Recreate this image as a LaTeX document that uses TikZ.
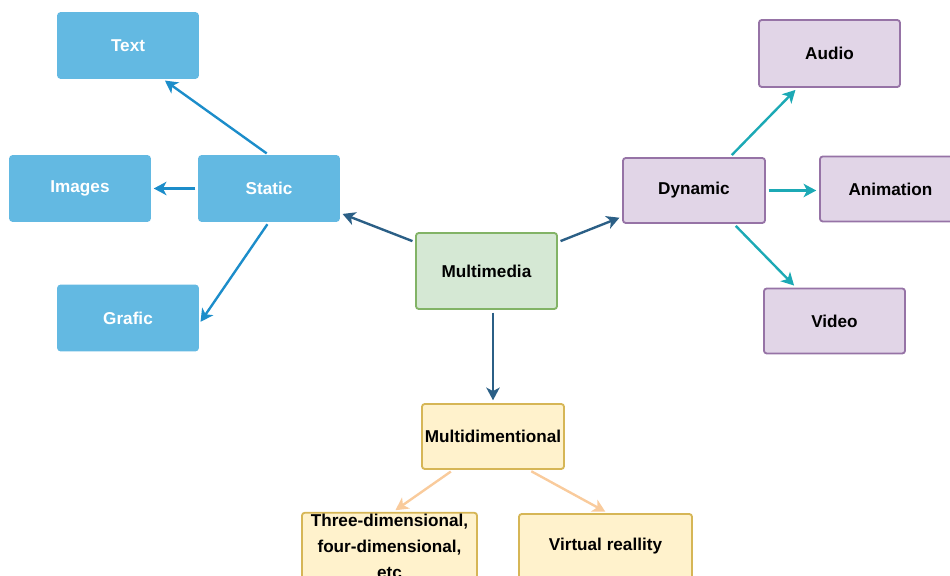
\documentclass[tikz,border=0pt]{standalone}
\usepackage{fontspec}
\setmainfont{Liberation Sans}
\usetikzlibrary{arrows.meta}

\definecolor{staticfill}{HTML}{63B9E2}
\definecolor{staticline}{HTML}{1C8DCA}
\definecolor{dynfill}{HTML}{E1D5E7}
\definecolor{dynline}{HTML}{9673A6}
\definecolor{mmfill}{HTML}{D5E8D4}
\definecolor{mmline}{HTML}{82B366}
\definecolor{mdfill}{HTML}{FFF2CC}
\definecolor{mdline}{HTML}{D6B656}
\definecolor{darkline}{HTML}{2B5F86}
\definecolor{tealline}{HTML}{1CA9B5}
\definecolor{peachline}{HTML}{F9CB9C}

\begin{document}
\begin{tikzpicture}[x=0.025cm,y=-0.025cm,>={Stealth[length=9pt,width=9.5pt,inset=2.5pt]},
    box/.style={rectangle, rounded corners=2pt, minimum width=3.5cm, minimum height=1.625cm, inner sep=1pt, align=center, line width=1.3pt, font=\fontsize{12.2}{18.5}\selectfont\bfseries},
    bluebox/.style={box, fill=staticfill, draw=staticfill, text=white},
    purplebox/.style={box, fill=dynfill, draw=dynline},
    greenbox/.style={box, fill=mmfill, draw=mmline},
    yellowbox/.style={box, fill=mdfill, draw=mdline},
    link/.style={->, line width=1.7pt, shorten <=2pt, shorten >=2pt}]
      \clip (0,0) rectangle (950,576);

      % centre
      \node (mm) [greenbox, minimum height=1.9cm, minimum width=3.525cm] at (486.5,271) {Multimedia};

      % static side
      \node (st) [bluebox] at (269,188.5) {Static};
      \node (tx) [bluebox] at (128,45.5) {Text};
      \node (img) [bluebox] at (80,188.5) {Images};
      \node (gr) [bluebox] at (128,318) {Grafic};

      % dynamic side
      \node (dyn) [purplebox, minimum width=3.55cm] at (694,190.5) {Dynamic};
      \node (au) [purplebox, minimum width=3.525cm, minimum height=1.675cm] at (829.5,53.5) {Audio};
      \node (an) [purplebox, minimum width=3.525cm] at (890.5,189) {Animation};
      \node (vi) [purplebox, minimum width=3.525cm] at (834.5,321) {Video};

      % dimensions
      \node (md) [yellowbox, minimum width=3.55cm] at (493,436.5) {Multidimentional};
      \node (td) [yellowbox, minimum width=4.375cm] at (389.5,546.5) {Three-dimensional,\\ four-dimensional,\\ etc};
      \node (vr) [yellowbox, minimum width=4.325cm] at (605.5,546.5) {Virtual reallity};

      \draw[link, darkline] (mm.158) -- (st.-19);
      \draw[link, darkline] (mm.22) -- (dyn.200);
      \draw[link, darkline] (md.north |- mm.south) -- (md.north);

      \draw[link, staticline] (st.north) -- (tx.-44);
      \draw[link, staticline] (st.west) -- (img.east);
      \draw[link, staticline] (st.south) -- (gr.-5);

      \draw[link, tealline] (dyn.43) -- (au.227);
      \draw[link, tealline] (dyn.east) -- (dyn.east -| an.west);
      \draw[link, tealline] (dyn.-40) -- (vi.139);

      \draw[link, peachline] (md.220) -- (td.84);
      \draw[link, peachline] (md.-43) -- (vr.86);
    \end{tikzpicture}
\end{document}
